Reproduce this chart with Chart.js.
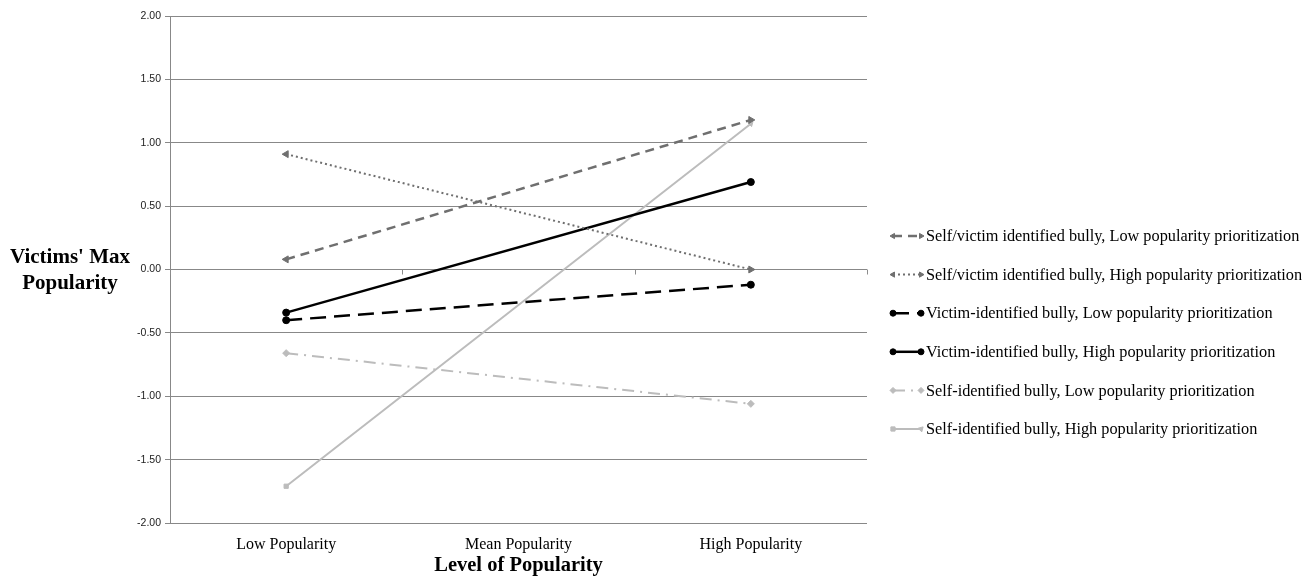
<!DOCTYPE html>
<html>
<head>
<meta charset="utf-8">
<script src="https://cdn.jsdelivr.net/npm/chart.js@4.4.1/dist/chart.umd.min.js"></script>
<style>
  html, body { margin: 0; padding: 0; background: #fff; }
  #wrap { width: 1316px; height: 578px; }
</style>
</head>
<body>
<div id="wrap"><canvas id="chart" width="1316" height="578"></canvas></div>
<script>
// Data
const categories = ['Low Popularity', 'Mean Popularity', 'High Popularity'];
const yTicks = [-2, -1.5, -1, -0.5, 0, 0.5, 1, 1.5, 2];

const seriesNames = [
    'Self/victim identified bully, Low popularity prioritization',
    'Self/victim identified bully, High popularity prioritization',
    'Victim-identified bully, Low popularity prioritization',
    'Victim-identified bully, High popularity prioritization',
    'Self-identified bully, Low popularity prioritization',
    'Self-identified bully, High popularity prioritization'
];
const selfVictimLow = [0.08, null, 1.18];
const selfVictimHigh = [0.91, null, 0.00];
const victimLow = [-0.40, null, -0.12];
const victimHigh = [-0.34, null, 0.69];
const selfLow = [-0.66, null, -1.06];
const selfHigh = [-1.71, null, 1.15];

const SERIF = '"Liberation Serif", "Times New Roman", serif';
const SANS = '"Liberation Sans", Arial, sans-serif';

const darkGray = '#6f6f6f';
const lightGray = '#bcbcbc';

function ds(label, data, color, dash, width, style, radius, rotation) {
    return {
        label: label,
        data: data,
        borderColor: color,
        backgroundColor: color,
        pointBackgroundColor: color,
        pointBorderColor: color,
        borderWidth: width,
        borderDash: dash,
        pointStyle: style,
        pointRadius: radius,
        pointRotation: rotation,
        pointBorderWidth: 1,
        spanGaps: true,
        tension: 0
    };
}

const datasets = [
    ds(seriesNames[0], selfVictimLow, darkGray, [9, 6], 2.5, 'triangle', 4, [-90, 0, 90]),
    ds(seriesNames[1], selfVictimHigh, darkGray, [2, 3], 2, 'triangle', 4, [-90, 0, 90]),
    ds(seriesNames[2], victimLow, '#000', [16, 8], 2.5, 'circle', 3.5, 0),
    ds(seriesNames[3], victimHigh, '#000', [], 2.5, 'circle', 3.5, 0),
    ds(seriesNames[4], selfLow, lightGray, [12, 6, 2, 6], 2, ['rectRot', 'rectRot', 'rectRot'], 3.5, 0),
    ds(seriesNames[5], selfHigh, lightGray, [], 2, ['rect', 'rect', 'triangle'], 3, [0, 0, 45])
];

// Extra drawing: category tick marks on the zero line, y title, legend
const extras = {
    id: 'extras',
    afterDatasetsDraw(chart) {
        const ctx = chart.ctx;
        const x = chart.scales.x;
        const y = chart.scales.y;
        const y0 = y.getPixelForValue(0);
        const step = x.getPixelForValue(1) - x.getPixelForValue(0);
        ctx.save();
        ctx.strokeStyle = '#8c8c8c';
        ctx.lineWidth = 1;
        for (let i = 0; i <= categories.length; i++) {
            const px = Math.round(x.getPixelForValue(0) - step / 2 + i * step) + 0.5;
            ctx.beginPath();
            ctx.moveTo(px, y0);
            ctx.lineTo(px, y0 + 5);
            ctx.stroke();
        }
        ctx.restore();
    },
    afterDraw(chart) {
        const ctx = chart.ctx;
        ctx.save();
        // y axis title
        ctx.fillStyle = '#000';
        ctx.font = 'bold 21px ' + SERIF;
        ctx.textAlign = 'center';
        ctx.textBaseline = 'middle';
        ctx.fillText("Victims' Max", 70, 258);
        ctx.fillText('Popularity', 70, 284);

        // legend
        const lx = 893, lw = 28, top = 236, gap = 38.6;
        chart.data.datasets.forEach((d, i) => {
            const cy = top + i * gap;
            ctx.save();
            ctx.strokeStyle = d.borderColor;
            ctx.lineWidth = d.borderWidth;
            ctx.setLineDash(d.borderDash);
            ctx.beginPath();
            ctx.moveTo(lx, cy);
            ctx.lineTo(lx + lw, cy);
            ctx.stroke();
            ctx.restore();
            const styles = Array.isArray(d.pointStyle) ? d.pointStyle : [d.pointStyle, d.pointStyle, d.pointStyle];
            const rots = Array.isArray(d.pointRotation) ? d.pointRotation : [d.pointRotation, d.pointRotation, d.pointRotation];
            const ends = [[lx, styles[0], rots[0]], [lx + lw, styles[2], rots[2]]];
            ends.forEach(e => {
                ctx.fillStyle = d.borderColor;
                ctx.strokeStyle = d.borderColor;
                ctx.lineWidth = 1;
                Chart.helpers.drawPoint(ctx, {
                    pointStyle: e[1], rotation: e[2], radius: 3, borderWidth: 1
                }, e[0], cy);
            });
            ctx.fillStyle = '#000';
            ctx.font = '16.3px ' + SERIF;
            ctx.textAlign = 'left';
            ctx.textBaseline = 'middle';
            ctx.fillText(d.label, lx + lw + 5, cy + 1);
        });
        ctx.restore();
    }
};

new Chart(document.getElementById('chart').getContext('2d'), {
    type: 'line',
    data: { labels: categories, datasets: datasets },
    options: {
        responsive: false,
        animation: false,
        layout: { padding: { top: 16, right: 449, bottom: 0, left: 0 } },
        plugins: {
            legend: { display: false },
            tooltip: { enabled: false }
        },
        scales: {
            x: {
                offset: true,
                grid: { display: false, drawTicks: false },
                border: { display: false },
                ticks: {
                    color: '#000',
                    padding: 12,
                    font: { family: SERIF, size: 16 }
                },
                title: {
                    display: true,
                    text: 'Level of Popularity',
                    color: '#000',
                    padding: { top: 0, bottom: 0 },
                    font: { family: SERIF, size: 20.5, weight: 'bold' }
                },
                afterFit(scale) { scale.height = 55; }
            },
            y: {
                min: -2,
                max: 2,
                afterBuildTicks(scale) {
                    scale.ticks = yTicks.map(v => ({ value: v }));
                },
                grid: { color: '#888', lineWidth: 1, tickLength: 5 },
                border: { display: true, color: '#888', width: 1 },
                ticks: {
                    color: '#222',
                    padding: 4,
                    font: { family: SANS, size: 10.5 },
                    callback: v => Number(v).toFixed(2)
                },
                afterFit(scale) { scale.width = 170; }
            }
        }
    },
    plugins: [extras]
});
</script>
</body>
</html>
